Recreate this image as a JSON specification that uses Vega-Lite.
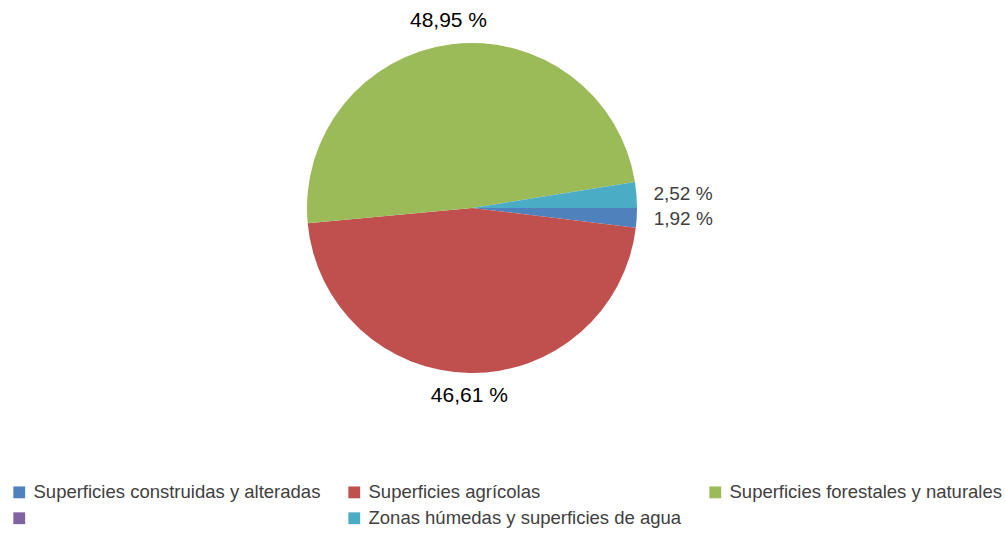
{
  "$schema": "https://vega.github.io/schema/vega-lite/v6.json",
  "autosize": {"type": "none"},
  "width": 944,
  "height": 416,
  "padding": {"left": 0, "top": 0, "right": 61, "bottom": 121},
  "background": "white",
  "config": {"view": {"stroke": null}},
  "data": {"values": [
    {"categoria": "Superficies construidas y alteradas", "valor": 1.92, "orden": 1, "etiqueta": "1,92 %"},
    {"categoria": "Superficies agrícolas", "valor": 46.61, "orden": 2, "etiqueta": "46,61 %"},
    {"categoria": "Superficies forestales y naturales", "valor": 48.95, "orden": 3, "etiqueta": "48,95 %"},
    {"categoria": "Zonas húmedas y superficies de agua", "valor": 2.52, "orden": 4, "etiqueta": "2,52 %"}
  ]},
  "encoding": {
    "theta": {"field": "valor", "type": "quantitative", "stack": true, "scale": {"range": [1.5708, 7.8540]}},
    "order": {"field": "orden", "type": "quantitative", "sort": "ascending"}
  },
  "layer": [
    {
      "mark": {"type": "arc", "outerRadius": 165},
      "encoding": {
        "color": {
          "field": "categoria", "type": "nominal",
          "scale": {
            "domain": ["Superficies construidas y alteradas", "Superficies agrícolas", "Superficies forestales y naturales", "", "Zonas húmedas y superficies de agua"],
            "range": ["#4F81BD", "#C0504D", "#9BBB59", "#8064A2", "#4BACC6"]
          },
          "legend": {
            "title": null,
            "orient": "none",
            "legendX": 10,
            "legendY": 483,
            "direction": "horizontal",
            "columns": 3,
            "columnPadding": 24,
            "rowPadding": 7,
            "symbolType": "square",
            "symbolSize": 140,
            "symbolStrokeWidth": 0,
            "symbolOffset": 0,
            "labelFont": "Liberation Sans",
            "labelFontSize": 18.5,
            "labelColor": "#404040",
            "labelOffset": 5,
            "labelLimit": 400
          }
        }
      }
    },
    {
      "mark": {"type": "text", "radius": 188, "font": "Liberation Sans", "fontSize": 21, "color": "#000000"},
      "encoding": {"text": {"condition": {"test": "datum.valor > 10", "field": "etiqueta"}, "value": ""}}
    },
    {
      "mark": {"type": "text", "radius": 182, "align": "left", "baseline": "middle", "font": "Liberation Sans", "fontSize": 19, "color": "#404040"},
      "encoding": {"text": {"condition": {"test": "datum.valor < 10", "field": "etiqueta"}, "value": ""}}
    }
  ]
}
